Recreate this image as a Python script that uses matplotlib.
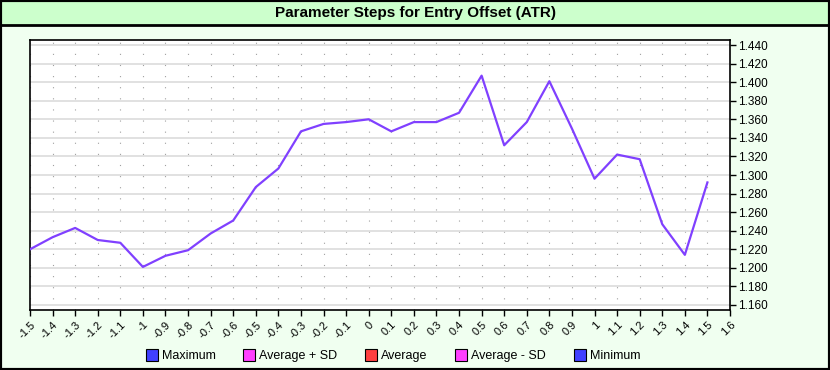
import numpy as np
import matplotlib.pyplot as plt
from matplotlib.patches import Rectangle
from matplotlib.lines import Line2D

plt.rcParams['font.family'] = ['Liberation Sans', 'DejaVu Sans']

# Значения параметра и результат
steps = [-1.5, -1.4, -1.3, -1.2, -1.1, -1.0, -0.9, -0.8, -0.7, -0.6, -0.5,
         -0.4, -0.3, -0.2, -0.1, 0.0, 0.1, 0.2, 0.3, 0.4, 0.5, 0.6, 0.7,
         0.8, 0.9, 1.0, 1.1, 1.2, 1.3, 1.4, 1.5]
values = [1.220, 1.233, 1.243, 1.230, 1.227, 1.201, 1.213, 1.219, 1.237,
          1.251, 1.287, 1.307, 1.347, 1.355, 1.357, 1.360, 1.347, 1.357,
          1.357, 1.367, 1.407, 1.332, 1.357, 1.401, 1.350, 1.296, 1.322,
          1.317, 1.247, 1.214, 1.292]

x_ticks = np.round(np.arange(-1.5, 1.61, 0.1), 1)
y_ticks = np.round(np.arange(1.16, 1.441, 0.02), 2)

legend_names = ['Maximum', 'Average + SD', 'Average', 'Average - SD', 'Minimum']
legend_colors = ['#4040ff', '#ff40ff', '#ff4040', '#ff40ff', '#4040ff']

W, H = 830, 370
fig = plt.figure(figsize=(W / 100, H / 100), dpi=100, facecolor='#f0fff0')

# Полоса заголовка
fig.patches.append(Rectangle((0, 1 - 25 / H), 1, 25 / H, transform=fig.transFigure,
                             facecolor='#ccffcc', edgecolor='none', zorder=0))
fig.add_artist(Line2D([0, 1], [1 - 25 / H, 1 - 25 / H], transform=fig.transFigure,
                      color='black', lw=2))
fig.patches.append(Rectangle((0, 0), 1, 1, transform=fig.transFigure,
                             facecolor='none', edgecolor='black', lw=3, zorder=5))
fig.text(0.5, 1 - 13 / H, 'Parameter Steps for Entry Offset (ATR)', ha='center',
         va='center', fontsize=11, fontweight='bold')

ax = fig.add_axes([30 / W, 60 / H, 700 / W, 270 / H])
ax.set_facecolor('white')
ax.plot(steps, values, color='#8040ff', lw=1.6, zorder=3)

ax.set_xlim(-1.5, 1.6)
ax.set_ylim(1.1546, 1.4454)
ax.set_xticks(x_ticks)
ax.set_xticklabels([f'{v:g}' for v in x_ticks], rotation=45, ha='right',
                   rotation_mode='anchor', fontsize=8)
ax.set_yticks(y_ticks)
ax.set_yticklabels([f'{v:.3f}' for v in y_ticks], fontsize=8.5)
ax.yaxis.tick_right()
ax.tick_params(axis='both', direction='out', length=4, width=1, color='black')
ax.tick_params(axis='x', pad=3)
ax.tick_params(axis='y', pad=2)
ax.grid(axis='y', color='#dcdcdc', lw=1.2, zorder=1)
ax.grid(axis='x', color='#a0a0a0', lw=0.8, linestyle=(0, (1, 9)), zorder=1)
for s in ax.spines.values():
    s.set_linewidth(1.2)

handles = [Line2D([], [], marker='s', linestyle='none', markersize=8,
                  markerfacecolor=c, markeredgecolor='black', markeredgewidth=0.8)
           for c in legend_colors]
fig.legend(handles, legend_names, loc='center', bbox_to_anchor=(393 / W, 14 / H),
           ncol=5, frameon=False, fontsize=9, handletextpad=0.3,
           columnspacing=2.2, handlelength=1.0)

fig.savefig('out.png', dpi=100, facecolor=fig.get_facecolor())
